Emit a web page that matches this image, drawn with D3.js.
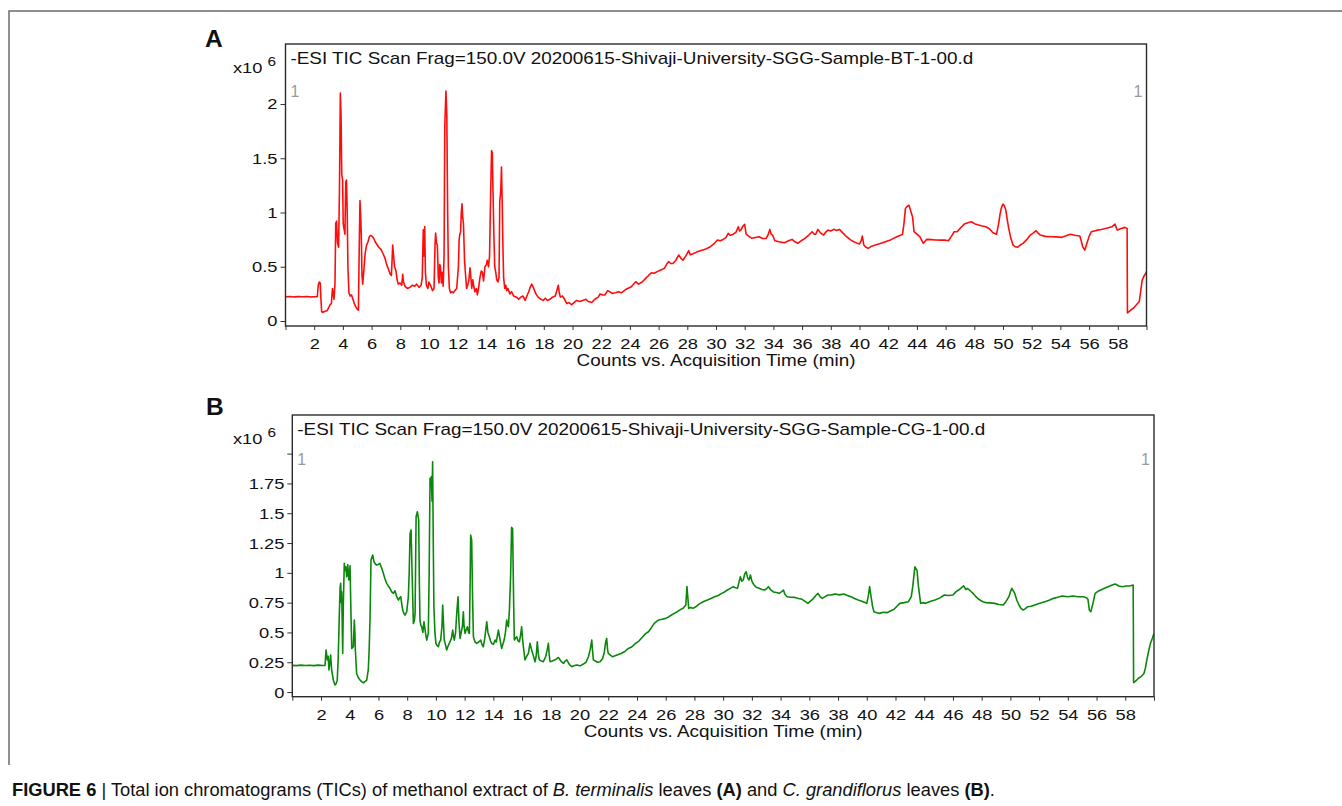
<!DOCTYPE html>
<html>
<head>
<meta charset="utf-8">
<script src="https://cdn.jsdelivr.net/npm/d3@7"></script>
<style>
  body { margin: 0; background: #fff; }
  svg text { font-family: "Liberation Sans", Arial, sans-serif; fill: #111; }
  /* the figure text is a little wider than plain Arial */
  .sx { transform-box: fill-box; transform: scaleX(1.18); }
  .sx-mid { transform-origin: 50% 50%; }
  .sx-end { transform-origin: 100% 50%; }
  .sx-start { transform-origin: 0% 50%; }
</style>
</head>
<body>
<div id="chart"></div>
<script>
(function() {

  // tick values
  var timeTicks = d3.range(0, 61, 2);
  var countTicksA = [0, 0.5, 1, 1.5, 2];
  var countTicksB = [0, 0.25, 0.5, 0.75, 1, 1.25, 1.5, 1.75, 2];

  var fileA = "-ESI TIC Scan Frag=150.0V 20200615-Shivaji-University-SGG-Sample-BT-1-00.d";
  var fileB = "-ESI TIC Scan Frag=150.0V 20200615-Shivaji-University-SGG-Sample-CG-1-00.d";

  // [time (min), counts x10^6]
  var ticA = [[0.0,0.224],[0.3,0.226],[0.6,0.222],[0.9,0.225],[1.2,0.223],[1.5,0.226],[1.8,0.222],[2.1,0.224],[2.22,0.226],
    [2.28,0.33],[2.35,0.36],[2.42,0.35],[2.47,0.2],[2.52,0.085],[2.6,0.08],[2.75,0.09],[2.9,0.095],[3.0,0.12],[3.1,0.15],[3.2,0.16],
    [3.27,0.3],[3.32,0.26],[3.38,0.2],[3.45,0.35],[3.5,0.9],[3.56,0.92],[3.62,0.72],[3.7,0.68],[3.76,1.2],[3.82,2.1],[3.87,1.9],
    [3.92,1.35],[3.98,1.3],[4.02,0.9],[4.08,0.85],[4.14,0.8],[4.2,1.28],[4.25,1.3],[4.3,1.0],[4.35,0.5],[4.42,0.26],[4.5,0.23],
    [4.6,0.24],[4.7,0.2],[4.8,0.16],[4.9,0.13],[5.0,0.11],[5.08,0.1],[5.13,0.6],[5.19,1.11],[5.23,1.0],[5.28,0.8],[5.33,0.42],
    [5.38,0.34],[5.45,0.45],[5.55,0.62],[5.65,0.7],[5.75,0.73],[5.85,0.78],[5.95,0.79],[6.05,0.78],[6.15,0.76],[6.25,0.73],
    [6.35,0.71],[6.5,0.68],[6.65,0.66],[6.8,0.62],[6.93,0.58],[7.05,0.52],[7.17,0.48],[7.3,0.43],[7.38,0.42],[7.44,0.6],[7.47,0.7],
    [7.52,0.62],[7.6,0.5],[7.7,0.46],[7.78,0.38],[7.86,0.34],[7.98,0.35],[8.1,0.33],[8.17,0.43],[8.22,0.36],[8.33,0.32],[8.5,0.3],
    [8.67,0.31],[8.85,0.33],[9.0,0.32],[9.14,0.34],[9.3,0.31],[9.45,0.33],[9.53,0.4],[9.6,0.84],[9.65,0.6],[9.7,0.87],[9.75,0.45],
    [9.82,0.33],[9.92,0.3],[10.0,0.36],[10.1,0.33],[10.25,0.28],[10.35,0.3],[10.42,0.7],[10.46,0.81],[10.52,0.72],[10.58,0.7],
    [10.65,0.4],[10.7,0.35],[10.75,0.52],[10.8,0.5],[10.86,0.35],[10.92,0.45],[10.99,0.32],[11.05,0.6],[11.1,1.8],[11.18,2.12],
    [11.24,1.9],[11.3,1.0],[11.35,0.5],[11.42,0.3],[11.5,0.26],[11.6,0.27],[11.7,0.26],[11.8,0.28],[11.93,0.3],[12.0,0.42],
    [12.05,0.5],[12.1,0.75],[12.15,0.8],[12.2,0.82],[12.25,1.0],[12.3,1.08],[12.35,0.95],[12.4,0.9],[12.48,0.55],[12.55,0.42],
    [12.62,0.3],[12.7,0.33],[12.78,0.38],[12.86,0.49],[12.92,0.4],[12.98,0.3],[13.05,0.38],[13.12,0.32],[13.2,0.27],[13.3,0.3],
    [13.37,0.24],[13.45,0.3],[13.55,0.4],[13.64,0.46],[13.72,0.45],[13.8,0.37],[13.9,0.5],[14.0,0.52],[14.06,0.56],[14.15,0.5],
    [14.22,0.6],[14.3,1.2],[14.36,1.57],[14.41,1.55],[14.46,1.2],[14.52,0.8],[14.58,0.5],[14.65,0.45],[14.72,0.38],[14.8,0.36],
    [14.88,0.4],[14.93,1.1],[15.0,1.2],[15.05,1.42],[15.1,1.1],[15.15,0.7],[15.2,0.4],[15.28,0.3],[15.35,0.33],[15.42,0.28],
    [15.5,0.3],[15.64,0.25],[15.75,0.27],[15.9,0.23],[16.1,0.22],[16.25,0.2],[16.4,0.22],[16.55,0.23],[16.7,0.19],[16.85,0.24],
    [16.95,0.27],[17.05,0.31],[17.16,0.34],[17.3,0.3],[17.45,0.25],[17.6,0.22],[17.8,0.2],[17.96,0.19],[18.1,0.21],[18.25,0.19],
    [18.43,0.2],[18.6,0.22],[18.8,0.23],[18.95,0.3],[19.01,0.33],[19.08,0.26],[19.15,0.22],[19.3,0.23],[19.45,0.2],[19.6,0.16],
    [19.75,0.17],[19.94,0.15],[20.1,0.17],[20.29,0.19],[20.5,0.18],[20.7,0.19],[20.94,0.2],[21.1,0.18],[21.34,0.17],[21.55,0.2],
    [21.8,0.22],[21.92,0.25],[22.1,0.24],[22.26,0.24],[22.45,0.28],[22.6,0.27],[22.75,0.255],[23.0,0.26],[23.2,0.27],[23.4,0.26],
    [23.7,0.29],[24.1,0.316],[24.4,0.362],[24.6,0.34],[24.85,0.36],[25.1,0.393],[25.3,0.42],[25.5,0.445],[25.7,0.44],[25.9,0.455],
    [26.15,0.47],[26.4,0.485],[26.55,0.52],[26.7,0.547],[26.85,0.53],[27.0,0.53],[27.2,0.56],[27.4,0.608],[27.55,0.58],[27.7,0.56],
    [27.9,0.6],[28.1,0.648],[28.2,0.61],[28.4,0.62],[28.65,0.635],[28.9,0.648],[29.2,0.66],[29.4,0.67],[29.6,0.685],[29.85,0.71],
    [30.1,0.746],[30.3,0.74],[30.5,0.752],[30.7,0.77],[30.85,0.808],[31.0,0.79],[31.2,0.8],[31.4,0.82],[31.55,0.869],[31.65,0.83],
    [31.75,0.84],[31.85,0.87],[32.0,0.891],[32.1,0.8],[32.3,0.78],[32.5,0.762],[32.75,0.77],[33.0,0.777],[33.25,0.76],[33.5,0.762],
    [33.65,0.8],[33.75,0.844],[33.85,0.8],[33.95,0.79],[34.1,0.74],[34.4,0.73],[34.6,0.725],[34.8,0.722],[35.05,0.74],[35.3,0.752],
    [35.5,0.73],[35.7,0.716],[35.95,0.74],[36.2,0.762],[36.45,0.79],[36.7,0.823],[36.85,0.8],[36.95,0.8],[37.1,0.844],[37.3,0.81],
    [37.5,0.792],[37.65,0.82],[37.8,0.838],[38.0,0.83],[38.2,0.845],[38.4,0.835],[38.6,0.844],[38.85,0.81],[39.1,0.777],[39.35,0.75],
    [39.6,0.731],[39.8,0.72],[40.0,0.71],[40.12,0.74],[40.2,0.783],[40.3,0.7],[40.45,0.68],[40.6,0.67],[40.85,0.69],[41.1,0.7],
    [41.45,0.715],[41.8,0.731],[42.2,0.75],[42.6,0.777],[42.85,0.79],[43.0,0.8],[43.1,0.9],[43.2,1.036],[43.35,1.06],[43.45,1.066],
    [43.6,1.0],[43.7,0.958],[43.8,0.823],[44.0,0.8],[44.2,0.777],[44.35,0.74],[44.45,0.716],[44.6,0.74],[44.7,0.752],[45.0,0.75],
    [45.3,0.746],[45.7,0.745],[46.0,0.745],[46.2,0.74],[46.4,0.78],[46.6,0.823],[46.8,0.823],[47.05,0.86],[47.3,0.893],[47.55,0.905],
    [47.8,0.915],[48.05,0.895],[48.3,0.884],[48.55,0.875],[48.8,0.869],[49.05,0.85],[49.3,0.814],[49.55,0.8],[49.7,0.9],[49.8,0.99],
    [49.9,1.05],[50.0,1.078],[50.1,1.06],[50.2,1.02],[50.3,0.93],[50.4,0.853],[50.55,0.76],[50.7,0.7],[50.85,0.685],[51.0,0.679],
    [51.2,0.7],[51.4,0.716],[51.65,0.75],[51.9,0.792],[52.1,0.81],[52.3,0.832],[52.45,0.81],[52.6,0.792],[52.95,0.78],[53.3,0.777],
    [53.7,0.775],[54.1,0.771],[54.4,0.785],[54.7,0.8],[55.0,0.79],[55.35,0.783],[55.45,0.74],[55.55,0.685],[55.7,0.654],[55.85,0.716],
    [56.0,0.78],[56.15,0.823],[56.5,0.835],[56.85,0.844],[57.2,0.855],[57.6,0.869],[57.8,0.893],[57.97,0.838],[58.2,0.85],[58.5,0.863],
    [58.65,0.853],[58.67,0.074],[58.9,0.1],[59.1,0.12],[59.3,0.15],[59.5,0.18],[59.6,0.28],[59.7,0.377],[59.85,0.42],[59.95,0.44],[60,0.455]];

  var ticB = [[0.0,0.224],[0.3,0.222],[0.6,0.226],[0.9,0.223],[1.2,0.225],[1.5,0.222],[1.8,0.226],[2.1,0.223],[2.28,0.224],
    [2.35,0.353],[2.44,0.27],[2.5,0.3],[2.55,0.185],[2.62,0.25],[2.67,0.31],[2.74,0.185],[2.86,0.1],[2.97,0.06],[3.05,0.07],[3.13,0.1],
    [3.2,0.296],[3.27,0.632],[3.33,0.88],[3.37,0.912],[3.41,0.75],[3.44,0.84],[3.51,0.324],[3.55,0.716],[3.62,1.08],[3.67,1.02],
    [3.72,1.05],[3.79,0.968],[3.86,1.07],[3.93,0.94],[3.98,1.0],[4.02,1.06],[4.07,0.744],[4.14,0.366],[4.25,0.38],[4.32,0.604],
    [4.36,0.5],[4.39,0.353],[4.48,0.156],[4.6,0.12],[4.72,0.1],[4.85,0.085],[4.95,0.078],[5.08,0.09],[5.18,0.1],[5.29,0.185],
    [5.35,0.35],[5.41,0.604],[5.48,1.107],[5.6,1.149],[5.69,1.093],[5.78,1.075],[5.87,1.065],[5.98,1.07],[6.1,1.079],[6.22,1.04],
    [6.34,0.996],[6.45,0.95],[6.57,0.912],[6.68,0.89],[6.8,0.87],[6.92,0.84],[7.04,0.828],[7.15,0.85],[7.27,0.8],[7.39,0.772],
    [7.47,0.79],[7.55,0.8],[7.62,0.74],[7.69,0.688],[7.77,0.66],[7.85,0.646],[7.97,0.674],[8.08,0.8],[8.14,1.0],[8.2,1.331],
    [8.27,1.36],[8.32,1.1],[8.36,0.912],[8.43,0.576],[8.5,0.6],[8.55,0.66],[8.62,1.47],[8.71,1.512],[8.8,1.443],[8.85,0.9],
    [8.89,0.604],[8.95,0.56],[9.01,0.548],[9.09,0.5],[9.17,0.59],[9.27,0.5],[9.36,0.436],[9.47,0.492],[9.53,1.0],[9.59,1.793],
    [9.64,1.75],[9.68,1.807],[9.73,1.6],[9.77,1.932],[9.82,1.2],[9.86,0.716],[9.93,0.5],[10.0,0.408],[10.08,0.39],[10.17,0.38],
    [10.25,0.42],[10.33,0.436],[10.42,0.55],[10.47,0.73],[10.52,0.6],[10.58,0.436],[10.66,0.4],[10.75,0.353],[10.86,0.39],
    [10.98,0.422],[11.08,0.45],[11.17,0.52],[11.22,0.47],[11.28,0.436],[11.37,0.5],[11.45,0.66],[11.54,0.8],[11.6,0.6],[11.68,0.45],
    [11.76,0.5],[11.84,0.548],[11.91,0.674],[11.96,0.55],[12.03,0.492],[12.1,0.52],[12.19,0.548],[12.27,0.5],[12.33,0.492],
    [12.38,0.9],[12.42,1.317],[12.49,1.275],[12.55,0.8],[12.61,0.464],[12.72,0.42],[12.84,0.408],[12.98,0.42],[13.12,0.436],
    [13.2,0.4],[13.3,0.38],[13.4,0.45],[13.47,0.52],[13.54,0.59],[13.62,0.5],[13.72,0.464],[13.8,0.43],[13.88,0.408],[14.0,0.4],
    [14.12,0.436],[14.2,0.42],[14.28,0.47],[14.35,0.52],[14.45,0.45],[14.58,0.366],[14.66,0.4],[14.75,0.436],[14.84,0.5],
    [14.93,0.604],[15.0,0.56],[15.05,0.548],[15.12,0.7],[15.2,0.968],[15.27,1.381],[15.34,1.37],[15.41,0.772],[15.46,0.436],
    [15.54,0.45],[15.62,0.464],[15.72,0.43],[15.81,0.422],[15.9,0.48],[15.97,0.548],[16.03,0.45],[16.09,0.38],[16.2,0.27],
    [16.32,0.3],[16.44,0.324],[16.55,0.408],[16.65,0.36],[16.74,0.324],[16.82,0.29],[16.9,0.254],[16.98,0.3],[17.06,0.422],
    [17.13,0.32],[17.2,0.27],[17.35,0.26],[17.48,0.254],[17.65,0.3],[17.76,0.36],[17.83,0.408],[17.9,0.3],[17.95,0.254],[18.1,0.26],
    [18.3,0.27],[18.42,0.28],[18.53,0.29],[18.7,0.26],[18.88,0.24],[19.0,0.26],[19.11,0.27],[19.3,0.23],[19.46,0.213],[19.6,0.22],
    [19.81,0.227],[20.05,0.22],[20.27,0.235],[20.45,0.25],[20.62,0.296],[20.75,0.36],[20.85,0.436],[20.92,0.33],[20.96,0.27],
    [21.1,0.26],[21.25,0.25],[21.43,0.254],[21.6,0.28],[21.72,0.33],[21.82,0.42],[21.89,0.45],[21.95,0.36],[22.0,0.324],[22.15,0.31],
    [22.3,0.296],[22.6,0.31],[22.9,0.324],[23.15,0.34],[23.4,0.366],[23.65,0.38],[23.9,0.408],[24.15,0.43],[24.4,0.464],[24.6,0.49],
    [24.8,0.506],[25.0,0.54],[25.2,0.576],[25.35,0.59],[25.5,0.604],[25.75,0.61],[26.0,0.618],[26.2,0.63],[26.4,0.646],[26.6,0.66],
    [26.8,0.674],[27.0,0.69],[27.2,0.702],[27.4,0.73],[27.48,0.884],[27.55,0.78],[27.6,0.702],[27.75,0.71],[27.9,0.702],[28.15,0.72],
    [28.4,0.744],[28.65,0.76],[28.9,0.772],[29.15,0.785],[29.4,0.8],[29.65,0.81],[29.9,0.828],[30.1,0.84],[30.3,0.856],[30.5,0.87],
    [30.7,0.884],[30.85,0.875],[31.0,0.87],[31.1,0.92],[31.2,0.968],[31.3,0.93],[31.4,0.94],[31.5,0.99],[31.6,1.01],[31.7,0.96],
    [31.8,0.94],[31.9,0.982],[32.0,0.93],[32.15,0.898],[32.3,0.88],[32.5,0.87],[32.7,0.86],[32.9,0.856],[33.05,0.87],[33.15,0.884],
    [33.3,0.86],[33.5,0.84],[33.7,0.835],[33.9,0.828],[34.05,0.84],[34.2,0.856],[34.3,0.82],[34.45,0.8],[34.7,0.795],[35.0,0.794],
    [35.25,0.785],[35.5,0.778],[35.7,0.76],[35.9,0.744],[36.1,0.765],[36.3,0.786],[36.45,0.81],[36.6,0.828],[36.75,0.8],[36.9,0.786],
    [37.1,0.8],[37.3,0.814],[37.55,0.815],[37.8,0.822],[38.1,0.815],[38.4,0.822],[38.65,0.81],[38.9,0.8],[39.15,0.785],[39.4,0.772],
    [39.7,0.76],[40.0,0.744],[40.1,0.8],[40.2,0.884],[40.3,0.8],[40.4,0.72],[40.5,0.674],[40.7,0.665],[40.9,0.66],[41.15,0.67],
    [41.4,0.666],[41.65,0.68],[41.9,0.694],[42.1,0.72],[42.3,0.744],[42.6,0.75],[42.9,0.758],[43.1,0.8],[43.2,0.884],[43.35,1.05],
    [43.5,1.02],[43.6,0.884],[43.75,0.744],[43.9,0.75],[44.1,0.744],[44.4,0.76],[44.75,0.772],[45.1,0.79],[45.4,0.814],[45.7,0.81],
    [46.0,0.814],[46.2,0.84],[46.4,0.856],[46.6,0.875],[46.75,0.89],[46.9,0.86],[47.0,0.87],[47.2,0.85],[47.4,0.828],[47.6,0.8],
    [47.8,0.778],[48.05,0.76],[48.3,0.75],[48.6,0.748],[48.9,0.744],[49.2,0.735],[49.5,0.73],[49.7,0.76],[49.9,0.8],[50.0,0.84],
    [50.1,0.87],[50.2,0.85],[50.3,0.828],[50.45,0.77],[50.6,0.73],[50.75,0.7],[50.9,0.688],[51.05,0.7],[51.2,0.716],[51.45,0.72],
    [51.7,0.73],[52.05,0.745],[52.4,0.758],[52.7,0.77],[53.0,0.786],[53.3,0.795],[53.6,0.806],[54.0,0.8],[54.35,0.806],[54.7,0.8],
    [55.1,0.8],[55.3,0.79],[55.4,0.778],[55.5,0.688],[55.6,0.674],[55.75,0.744],[55.9,0.828],[56.1,0.845],[56.3,0.856],[56.55,0.87],
    [56.8,0.884],[57.05,0.895],[57.3,0.906],[57.55,0.89],[57.8,0.884],[58.05,0.89],[58.3,0.89],[58.55,0.898],[58.58,0.078],
    [58.75,0.095],[58.9,0.114],[59.1,0.13],[59.3,0.156],[59.4,0.2],[59.5,0.27],[59.62,0.34],[59.75,0.408],[59.88,0.45],[60.0,0.492]];

  var svg = d3.select("#chart")
    .append("svg")
    .attr("width", 1342)
    .attr("height", 806);

  // page frame (top and left rules)
  svg.append("path")
    .attr("d", "M9,765V11H1342")
    .attr("fill", "none")
    .attr("stroke", "#6b6b6b")
    .attr("stroke-width", 1.5);

  var panels = [
    { letter: "A", data: ticA, ticks: countTicksA, file: fileA, color: "#ff0d0d",
      left: 285.5, right: 1146.5, top: 44, bottom: 326, yDomain: [-0.046, 2.553],
      letterX: 205, letterY: 47, unitX: 263, oneY: 53 },
    { letter: "B", data: ticB, ticks: countTicksB, file: fileB, color: "#0b870b",
      left: 292.3, right: 1154, top: 415, bottom: 696.7, yDomain: [-0.039, 2.324],
      letterX: 206, letterY: 415, unitX: 263, oneY: 50, hideTopTick: true }
  ];

  panels.forEach(drawPanel);

  function drawPanel(p) {
    var x = d3.scaleLinear().domain([0, 60]).range([p.left, p.right]);
    var y = d3.scaleLinear().domain(p.yDomain).range([p.bottom, p.top]);
    var g = svg.append("g").attr("class", "panel-" + p.letter);

    g.append("text")
      .attr("x", p.letterX)
      .attr("y", p.letterY)
      .style("font-size", "24.5px")
      .style("font-weight", "bold")
      .text(p.letter);

    // trace, clipped to the plot box
    g.append("clipPath").attr("id", "clip-" + p.letter)
      .append("rect")
      .attr("x", p.left).attr("y", p.top)
      .attr("width", p.right - p.left).attr("height", p.bottom - p.top);

    var line = d3.line()
      .x(function(d) { return x(d[0]); })
      .y(function(d) { return y(d[1]); });

    g.append("path")
      .datum(p.data)
      .attr("clip-path", "url(#clip-" + p.letter + ")")
      .attr("fill", "none")
      .attr("stroke", p.color)
      .attr("stroke-width", 1.6)
      .attr("stroke-linejoin", "round")
      .attr("d", line);

    // x axis
    var xAxis = d3.axisBottom(x)
      .tickValues(timeTicks)
      .tickSize(4)
      .tickPadding(8)
      .tickFormat(function(d) { return (d === 0 || d === 60) ? "" : d; });

    var gx = g.append("g")
      .attr("transform", "translate(0," + p.bottom + ")")
      .call(xAxis);
    gx.select(".domain").remove();
    gx.selectAll("line").attr("stroke", "#333");
    gx.selectAll("text")
      .attr("class", "sx sx-mid")
      .style("font-size", "15.5px")
      .style("font-family", '"Liberation Sans", Arial, sans-serif')
      .attr("fill", "#111");

    // y axis
    var yAxis = d3.axisLeft(y)
      .tickValues(p.ticks)
      .tickSize(5)
      .tickPadding(3)
      .tickFormat(function(d) { return (p.hideTopTick && d === 2) ? "" : d; });

    var gy = g.append("g")
      .attr("transform", "translate(" + p.left + ",0)")
      .call(yAxis);
    gy.select(".domain").remove();
    gy.selectAll("line").attr("stroke", "#333");
    gy.selectAll("text")
      .attr("class", "sx sx-end")
      .style("font-size", "15.5px")
      .style("font-family", '"Liberation Sans", Arial, sans-serif')
      .attr("fill", "#111");

    // plot box
    g.append("rect")
      .attr("x", p.left).attr("y", p.top)
      .attr("width", p.right - p.left).attr("height", p.bottom - p.top)
      .attr("fill", "none")
      .attr("stroke", "#2b2b2b")
      .attr("stroke-width", 1.4);

    // scan description
    g.append("text")
      .attr("class", "sx sx-start")
      .attr("x", p.left + 5)
      .attr("y", p.top + 20)
      .style("font-size", "16px")
      .text(p.file);

    // x10^6 multiplier
    var unit = g.append("text")
      .attr("class", "sx sx-end")
      .attr("x", p.unitX + 13)
      .attr("y", p.top + 29)
      .attr("text-anchor", "end")
      .style("font-size", "15.5px");
    unit.append("tspan").text("x10 ");
    unit.append("tspan").attr("dy", -7).style("font-size", "13px").text("6");

    // trace numbers in the corners
    g.append("text")
      .attr("x", p.left + 5)
      .attr("y", p.top + p.oneY)
      .style("font-size", "16px")
      .style("fill", "#9a9a9a")
      .text("1");
    g.append("text")
      .attr("x", p.right - 4)
      .attr("y", p.top + p.oneY)
      .attr("text-anchor", "end")
      .style("font-size", "16px")
      .style("fill", "#9a9a9a")
      .text("1");

    g.append("text")
      .attr("class", "sx sx-mid")
      .attr("x", (p.left + p.right) / 2)
      .attr("y", p.bottom + 40)
      .attr("text-anchor", "middle")
      .style("font-size", "16px")
      .text("Counts vs. Acquisition Time (min)");
  }

  // figure caption
  var caption = svg.append("text")
    .attr("x", 12)
    .attr("y", 796)
    .style("font-family", '"Liberation Sans Narrow", "Arial Narrow", "Liberation Sans", sans-serif')
    .style("font-size", "18.3px");
  var parts = [
    ["FIGURE 6", "bold", "normal"], [" | ", "normal", "normal"],
    ["Total ion chromatograms (TICs) of methanol extract of ", "normal", "normal"],
    ["B. terminalis", "normal", "italic"], [" leaves ", "normal", "normal"],
    ["(A)", "bold", "normal"], [" and ", "normal", "normal"],
    ["C. grandiflorus", "normal", "italic"], [" leaves ", "normal", "normal"],
    ["(B)", "bold", "normal"], [".", "normal", "normal"]
  ];
  caption.selectAll("tspan")
    .data(parts)
    .enter().append("tspan")
    .style("font-weight", function(d) { return d[1]; })
    .style("font-style", function(d) { return d[2]; })
    .text(function(d) { return d[0]; });

})();
</script>
</body>
</html>
